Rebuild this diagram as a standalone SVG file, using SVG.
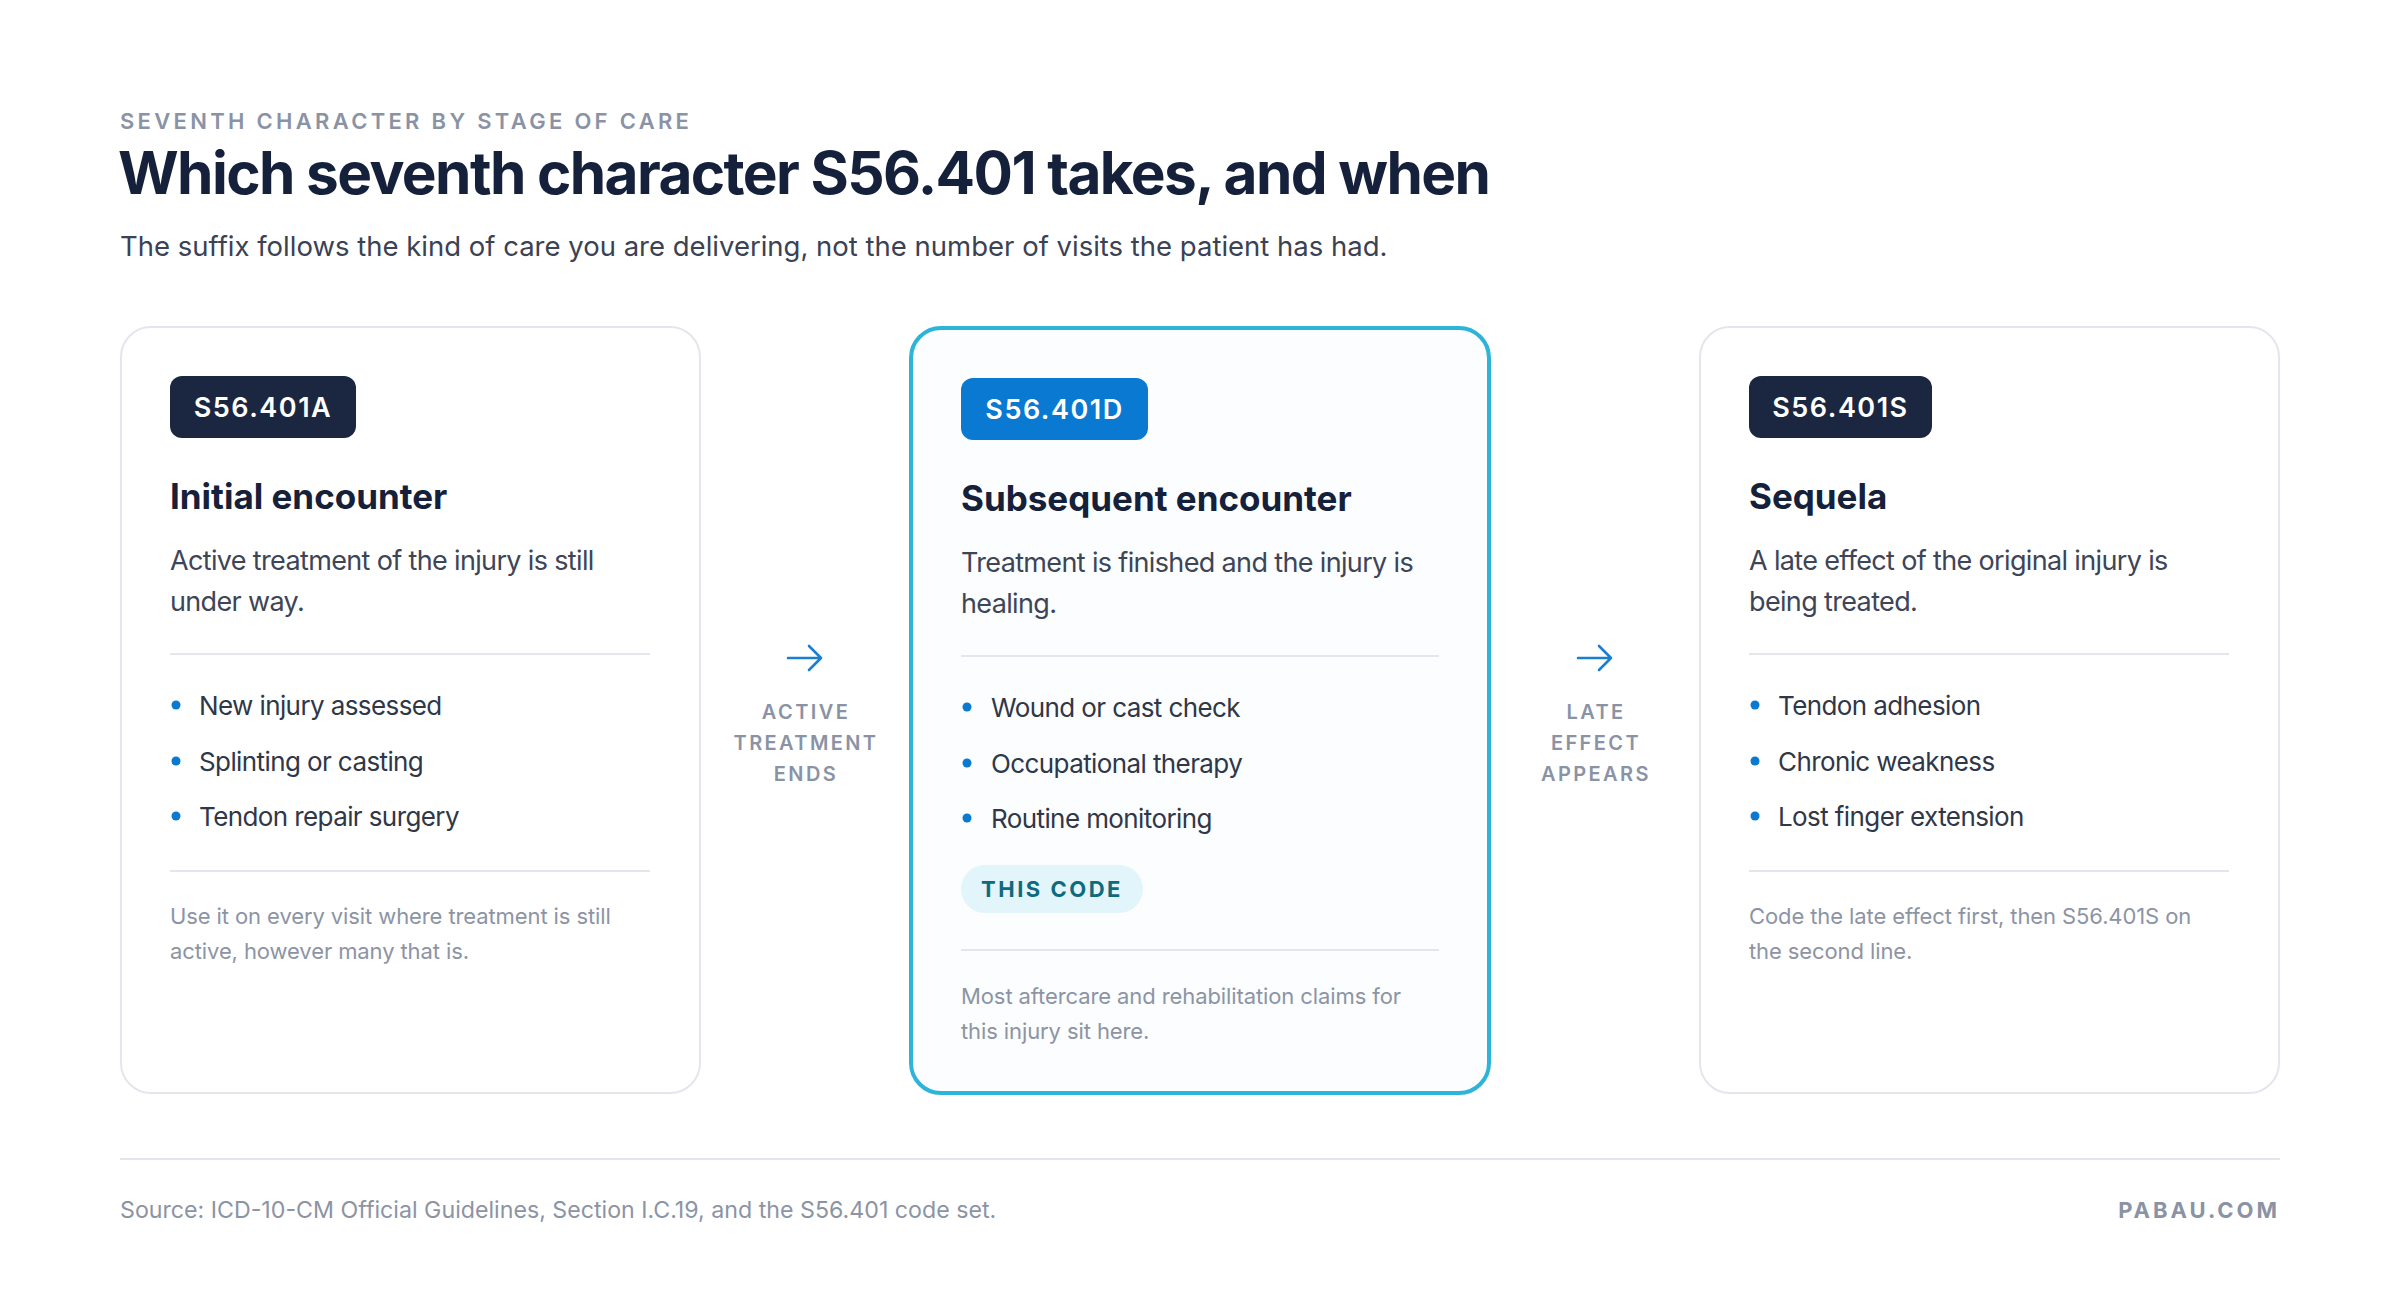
<svg xmlns="http://www.w3.org/2000/svg" width="2400" height="1316" viewBox="0 0 2400 1316">
<style>
.f{font-family:Inter,"Noto Sans","Liberation Sans",sans-serif}
.eyebrow{font-size:22px;font-weight:600;letter-spacing:3.3px;fill:#8a93a5}
.title{font-size:58.5px;font-weight:700;letter-spacing:-1.6px;fill:#15203a}
.sub{font-size:27.5px;font-weight:400;fill:#3a4254}
.card{fill:#ffffff;stroke:#e3e6ec;stroke-width:2}
.card-hl{fill:#fbfdfe;stroke:#2db4d9;stroke-width:4}
.badge-dark{fill:#1b2640}
.badge-blue{fill:#0a79d1}
.badge-t{font-size:27px;font-weight:600;letter-spacing:1.5px;fill:#ffffff}
.head{font-size:35px;font-weight:700;letter-spacing:0px;fill:#15203a}
.desc{font-size:27px;font-weight:400;letter-spacing:-0.65px;fill:#3d4557}
.li{font-size:26px;font-weight:400;letter-spacing:-0.6px;fill:#2f3748}
.dot{fill:#0a79d1}
.div{stroke:#e3e6ec;stroke-width:2}
.note{font-size:22px;font-weight:400;letter-spacing:-0.1px;fill:#8c94a4}
.pill{fill:#e2f5fa}
.pill-t{font-size:22px;font-weight:700;letter-spacing:2.5px;fill:#0e6b7e}
.lbl{font-size:20px;font-weight:600;letter-spacing:2.4px;fill:#8a93a5}
.arrow{fill:none;stroke:#1a7fd0;stroke-width:2.6;stroke-linecap:round;stroke-linejoin:round}
.foot{font-size:23.2px;font-weight:400;fill:#8c94a4}
.brand{font-size:22px;font-weight:700;letter-spacing:3px;fill:#8a93a5}
</style>

<rect width="2400" height="1316" fill="#ffffff"/>

<g id="header" class="f">
  <text class="eyebrow" x="120" y="128.5">SEVENTH CHARACTER BY STAGE OF CARE</text>
  <text class="title" x="118" y="193.5">Which seventh character S56.401 takes, and when</text>
  <text class="sub" x="120" y="256">The suffix follows the kind of care you are delivering, not the number of visits the patient has had.</text>
</g>

<g id="card-initial" class="f">
  <rect class="card" x="121" y="327" width="579" height="766" rx="30"/>
  <rect class="badge-dark" x="170" y="376" width="186" height="62" rx="12"/>
  <text class="badge-t" x="263" y="416.5" text-anchor="middle">S56.401A</text>
  <text class="head" x="170" y="508.5">Initial encounter</text>
  <text class="desc" x="170" y="569.5">Active treatment of the injury is still</text>
  <text class="desc" x="170" y="610.5">under way.</text>
  <line class="div" x1="170" y1="654" x2="650" y2="654"/>
  <circle class="dot" cx="176" cy="705" r="4.5"/>
  <text class="li" x="199" y="714.5">New injury assessed</text>
  <circle class="dot" cx="176" cy="761" r="4.5"/>
  <text class="li" x="199" y="770.5">Splinting or casting</text>
  <circle class="dot" cx="176" cy="816" r="4.5"/>
  <text class="li" x="199" y="825.5">Tendon repair surgery</text>
  <line class="div" x1="170" y1="871" x2="650" y2="871"/>
  <text class="note" x="170" y="924">Use it on every visit where treatment is still</text>
  <text class="note" x="170" y="959">active, however many that is.</text>
</g>

<g id="card-subsequent" class="f">
  <rect class="card-hl" x="911" y="328" width="578" height="765" rx="30"/>
  <rect class="badge-blue" x="961" y="378" width="187" height="62" rx="12"/>
  <text class="badge-t" x="1054.5" y="418.5" text-anchor="middle">S56.401D</text>
  <text class="head" x="961" y="510.5">Subsequent encounter</text>
  <text class="desc" x="961" y="571.5">Treatment is finished and the injury is</text>
  <text class="desc" x="961" y="612.5">healing.</text>
  <line class="div" x1="961" y1="656" x2="1439" y2="656"/>
  <circle class="dot" cx="967" cy="707" r="4.5"/>
  <text class="li" x="991" y="716.5">Wound or cast check</text>
  <circle class="dot" cx="967" cy="763" r="4.5"/>
  <text class="li" x="991" y="772.5">Occupational therapy</text>
  <circle class="dot" cx="967" cy="818" r="4.5"/>
  <text class="li" x="991" y="827.5">Routine monitoring</text>
  <rect class="pill" x="961" y="865" width="182" height="48" rx="24"/>
  <text class="pill-t" x="1052" y="897" text-anchor="middle">THIS CODE</text>
  <line class="div" x1="961" y1="950" x2="1439" y2="950"/>
  <text class="note" x="961" y="1004">Most aftercare and rehabilitation claims for</text>
  <text class="note" x="961" y="1039">this injury sit here.</text>
</g>

<g id="card-sequela" class="f">
  <rect class="card" x="1700" y="327" width="579" height="766" rx="30"/>
  <rect class="badge-dark" x="1749" y="376" width="183" height="62" rx="12"/>
  <text class="badge-t" x="1840.5" y="416.5" text-anchor="middle">S56.401S</text>
  <text class="head" x="1749" y="508.5">Sequela</text>
  <text class="desc" x="1749" y="569.5">A late effect of the original injury is</text>
  <text class="desc" x="1749" y="610.5">being treated.</text>
  <line class="div" x1="1749" y1="654" x2="2229" y2="654"/>
  <circle class="dot" cx="1755" cy="705" r="4.5"/>
  <text class="li" x="1778" y="714.5">Tendon adhesion</text>
  <circle class="dot" cx="1755" cy="761" r="4.5"/>
  <text class="li" x="1778" y="770.5">Chronic weakness</text>
  <circle class="dot" cx="1755" cy="816" r="4.5"/>
  <text class="li" x="1778" y="825.5">Lost finger extension</text>
  <line class="div" x1="1749" y1="871" x2="2229" y2="871"/>
  <text class="note" x="1749" y="924">Code the late effect first, then S56.401S on</text>
  <text class="note" x="1749" y="959">the second line.</text>
</g>

<g id="connectors" class="f">
  <g id="conn-active-ends">
    <path class="arrow" d="M788 658 H821 M809 646 L821 658 L809 670"/>
    <text class="lbl" x="806" y="719" text-anchor="middle">ACTIVE</text>
    <text class="lbl" x="806" y="750" text-anchor="middle">TREATMENT</text>
    <text class="lbl" x="806" y="781" text-anchor="middle">ENDS</text>
  </g>
  <g id="conn-late-effect">
    <path class="arrow" d="M1578 658 H1611 M1599 646 L1611 658 L1599 670"/>
    <text class="lbl" x="1596" y="719" text-anchor="middle">LATE</text>
    <text class="lbl" x="1596" y="750" text-anchor="middle">EFFECT</text>
    <text class="lbl" x="1596" y="781" text-anchor="middle">APPEARS</text>
  </g>
</g>

<g id="footer" class="f">
  <line class="div" x1="120" y1="1159" x2="2280" y2="1159"/>
  <text class="foot" x="120" y="1218">Source: ICD-10-CM Official Guidelines, Section I.C.19, and the S56.401 code set.</text>
  <text class="brand" x="2280" y="1218" text-anchor="end">PABAU.COM</text>
</g>
</svg>
